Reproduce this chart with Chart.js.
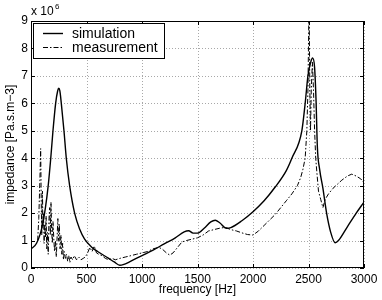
<!DOCTYPE html>
<html>
<head>
<meta charset="utf-8">
<script src="https://cdn.jsdelivr.net/npm/chart.js@4"></script>
<style>
  html, body { margin: 0; padding: 0; background: #fff; }
  canvas { display: block; }
</style>
</head>
<body>
<canvas id="impChart" width="382" height="300"></canvas>
<script>
// frequency [Hz] / impedance [x 1e6 Pa.s.m-3]
const simFreq = [0, 50, 100, 130, 155, 178, 198, 222, 240, 250, 260, 273, 297, 318, 348, 393, 440, 483, 550, 600, 700, 750, 800, 830, 900, 1000, 1100, 1200, 1300, 1380, 1420, 1460, 1500, 1560, 1620, 1660, 1700, 1760, 1800, 1900, 2000, 2100, 2200, 2300, 2350, 2440, 2470, 2495, 2520, 2537, 2555, 2568, 2580, 2600, 2630, 2663, 2700, 2740, 2770, 2850, 2930, 3000];
const simImp = [0.69, 0.9, 1.5, 2.2, 3.0, 4.0, 5.0, 6.0, 6.45, 6.55, 6.45, 6.0, 5.0, 4.0, 3.0, 2.0, 1.4, 1.05, 0.75, 0.6, 0.35, 0.22, 0.1, 0.12, 0.25, 0.45, 0.65, 0.88, 1.1, 1.32, 1.36, 1.27, 1.27, 1.45, 1.68, 1.74, 1.65, 1.45, 1.47, 1.72, 2.05, 2.45, 2.95, 3.55, 4.0, 5.0, 6.0, 7.0, 7.5, 7.65, 7.3, 6.1, 4.4, 3.6, 2.9, 2.0, 1.3, 0.92, 1.0, 1.5, 2.0, 2.4];

const measFreq = [60, 70, 80, 87, 92, 97, 103, 108, 113, 118, 124, 130, 136, 142, 148, 155, 162, 168, 174, 180, 186, 192, 198, 205, 212, 220, 228, 236, 242, 248, 255, 262, 270, 278, 285, 292, 300, 310, 320, 330, 340, 350, 360, 375, 390, 410, 430, 450, 470, 490, 510, 530, 550, 570, 590, 610, 640, 670, 700, 730, 760, 800, 850, 900, 950, 1000, 1050, 1100, 1150, 1180, 1220, 1250, 1280, 1320, 1360, 1400, 1450, 1500, 1550, 1600, 1650, 1700, 1750, 1800, 1850, 1900, 1950, 2000, 2050, 2100, 2150, 2200, 2250, 2300, 2350, 2400, 2430, 2450, 2470, 2485, 2495, 2505, 2512, 2518, 2525, 2535, 2545, 2555, 2565, 2575, 2590, 2610, 2630, 2650, 2680, 2720, 2760, 2800, 2850, 2890, 2930, 2970, 3000];
const measImp = [1.0, 1.8, 3.2, 4.35, 2.5, 1.2, 2.8, 1.5, 2.0, 0.9, 1.6, 1.1, 1.9, 0.7, 1.3, 0.5, 1.8, 2.2, 1.2, 2.4, 1.4, 0.9, 1.7, 1.1, 0.6, 1.0, 0.4, 1.2, 1.8, 1.0, 1.6, 0.7, 1.2, 0.5, 0.9, 0.3, 0.6, 0.35, 0.5, 0.25, 0.45, 0.2, 0.4, 0.3, 0.45, 0.3, 0.4, 0.3, 0.35, 0.4, 0.55, 0.75, 0.6, 0.8, 0.55, 0.5, 0.45, 0.35, 0.3, 0.35, 0.3, 0.35, 0.4, 0.45, 0.5, 0.55, 0.6, 0.7, 0.75, 0.7, 0.55, 0.47, 0.55, 0.75, 0.95, 1.0, 1.05, 1.1, 1.2, 1.35, 1.4, 1.45, 1.48, 1.4, 1.35, 1.28, 1.22, 1.2, 1.35, 1.55, 1.75, 1.95, 2.2, 2.45, 2.7, 3.0, 3.3, 3.6, 4.0, 5.0, 6.5, 9.8, 6.5, 5.0, 6.5, 7.5, 6.5, 5.0, 4.0, 3.5, 2.8, 2.5, 2.2, 2.5, 2.7, 2.9, 3.05, 3.2, 3.35, 3.42, 3.35, 3.25, 3.1];

const xTicks = [0, 500, 1000, 1500, 2000, 2500, 3000];
const yTicks = [0, 1, 2, 3, 4, 5, 6, 7, 8, 9];

const FONT = 'Liberation Sans, Arial, Helvetica, sans-serif';

function toPoints(xs, ys) {
  return xs.map((x, i) => ({ x: x, y: ys[i] }));
}

// dotted grid behind the lines
const dottedGrid = {
  id: 'dottedGrid',
  beforeDatasetsDraw(chart) {
    const ctx = chart.ctx;
    const a = chart.chartArea;
    const xs = chart.scales.x;
    const ys = chart.scales.y;
    ctx.save();
    ctx.strokeStyle = '#a8a8a8';
    ctx.lineWidth = 1;
    ctx.setLineDash([1, 2]);
    ctx.beginPath();
    xTicks.forEach(v => {
      const px = Math.round(xs.getPixelForValue(v)) + 0.5;
      ctx.moveTo(px, a.top); ctx.lineTo(px, a.bottom);
    });
    yTicks.forEach(v => {
      const py = Math.round(ys.getPixelForValue(v)) + 0.5;
      ctx.moveTo(a.left, py); ctx.lineTo(a.right, py);
    });
    ctx.stroke();
    ctx.restore();
  }
};

// frame, inward ticks, legend box, axis titles and the "x 10^6" multiplier
const matlabDecor = {
  id: 'matlabDecor',
  afterDraw(chart) {
    const ctx = chart.ctx;
    const a = chart.chartArea;
    const xs = chart.scales.x;
    const ys = chart.scales.y;
    ctx.save();
    ctx.strokeStyle = '#000';
    ctx.lineWidth = 1;
    ctx.setLineDash([]);
    ctx.strokeRect(a.left + 0.5, a.top + 0.5, a.right - a.left - 1, a.bottom - a.top - 1);

    ctx.beginPath();
    xTicks.forEach(v => {
      const px = Math.round(xs.getPixelForValue(v)) + 0.5;
      ctx.moveTo(px, a.bottom); ctx.lineTo(px, a.bottom - 4);
      ctx.moveTo(px, a.top); ctx.lineTo(px, a.top + 4);
    });
    yTicks.forEach(v => {
      const py = Math.round(ys.getPixelForValue(v)) + 0.5;
      ctx.moveTo(a.left, py); ctx.lineTo(a.left + 4, py);
      ctx.moveTo(a.right, py); ctx.lineTo(a.right - 4, py);
    });
    ctx.stroke();

    // legend
    const bx = a.left + 2, by = a.top + 2, bw = 131, bh = 35;
    ctx.fillStyle = '#fff';
    ctx.fillRect(bx, by, bw, bh);
    ctx.strokeRect(bx + 0.5, by + 0.5, bw, bh);
    chart.data.datasets.forEach((ds, i) => {
      const ly = by + 10 + i * 14 + 0.5;
      ctx.beginPath();
      ctx.lineWidth = ds.borderWidth;
      ctx.setLineDash(ds.borderDash || []);
      ctx.moveTo(bx + 10, ly);
      ctx.lineTo(bx + 30, ly);
      ctx.stroke();
      ctx.setLineDash([]);
      ctx.fillStyle = '#000';
      ctx.font = '14px ' + FONT;
      ctx.textBaseline = 'middle';
      ctx.textAlign = 'left';
      ctx.fillText(ds.label, bx + 39, ly + 0.5);
    });

    // axis titles
    ctx.fillStyle = '#000';
    ctx.font = '12px ' + FONT;
    ctx.textAlign = 'center';
    ctx.textBaseline = 'middle';
    ctx.fillText('frequency [Hz]', (a.left + a.right) / 2, 290);
    ctx.save();
    ctx.translate(11, (a.top + a.bottom) / 2);
    ctx.rotate(-Math.PI / 2);
    ctx.fillText('impedance [Pa.s.m−3]', 0, 0);
    ctx.restore();

    // exponent label
    ctx.textAlign = 'left';
    ctx.textBaseline = 'alphabetic';
    ctx.font = '12px ' + FONT;
    ctx.fillText('x 10', a.left, a.top - 6);
    ctx.font = '8px ' + FONT;
    ctx.fillText('6', a.left + 24, a.top - 12);
    ctx.restore();
  }
};

const ctx = document.getElementById('impChart').getContext('2d');
new Chart(ctx, {
  type: 'line',
  data: {
    datasets: [{
      label: 'simulation',
      data: toPoints(simFreq, simImp),
      borderColor: '#000',
      borderWidth: 1.4,
      pointRadius: 0,
      tension: 0.35,
      cubicInterpolationMode: 'monotone',
      fill: false
    }, {
      label: 'measurement',
      data: toPoints(measFreq, measImp),
      borderColor: '#000',
      borderWidth: 1,
      borderDash: [5, 2, 1.5, 2],
      pointRadius: 0,
      tension: 0,
      fill: false
    }]
  },
  options: {
    responsive: false,
    animation: false,
    devicePixelRatio: 1,
    layout: { padding: { top: 21, right: 18, left: 0, bottom: 0 } },
    plugins: {
      legend: { display: false },
      tooltip: { enabled: false }
    },
    scales: {
      x: {
        type: 'linear',
        min: 0,
        max: 3000,
        afterBuildTicks: s => { s.ticks = xTicks.map(v => ({ value: v })); },
        afterFit: s => { s.height = 32; },
        ticks: { color: '#000', font: { family: FONT, size: 12 }, padding: 4, maxRotation: 0, callback: v => String(v) },
        grid: { display: false, drawTicks: false },
        border: { display: false }
      },
      y: {
        min: 0,
        max: 9,
        afterBuildTicks: s => { s.ticks = yTicks.map(v => ({ value: v })); },
        afterFit: s => { s.width = 31; },
        ticks: { color: '#000', font: { family: FONT, size: 12 }, padding: 3, callback: v => String(v) },
        grid: { display: false, drawTicks: false },
        border: { display: false }
      }
    }
  },
  plugins: [dottedGrid, matlabDecor]
});
</script>
</body>
</html>
